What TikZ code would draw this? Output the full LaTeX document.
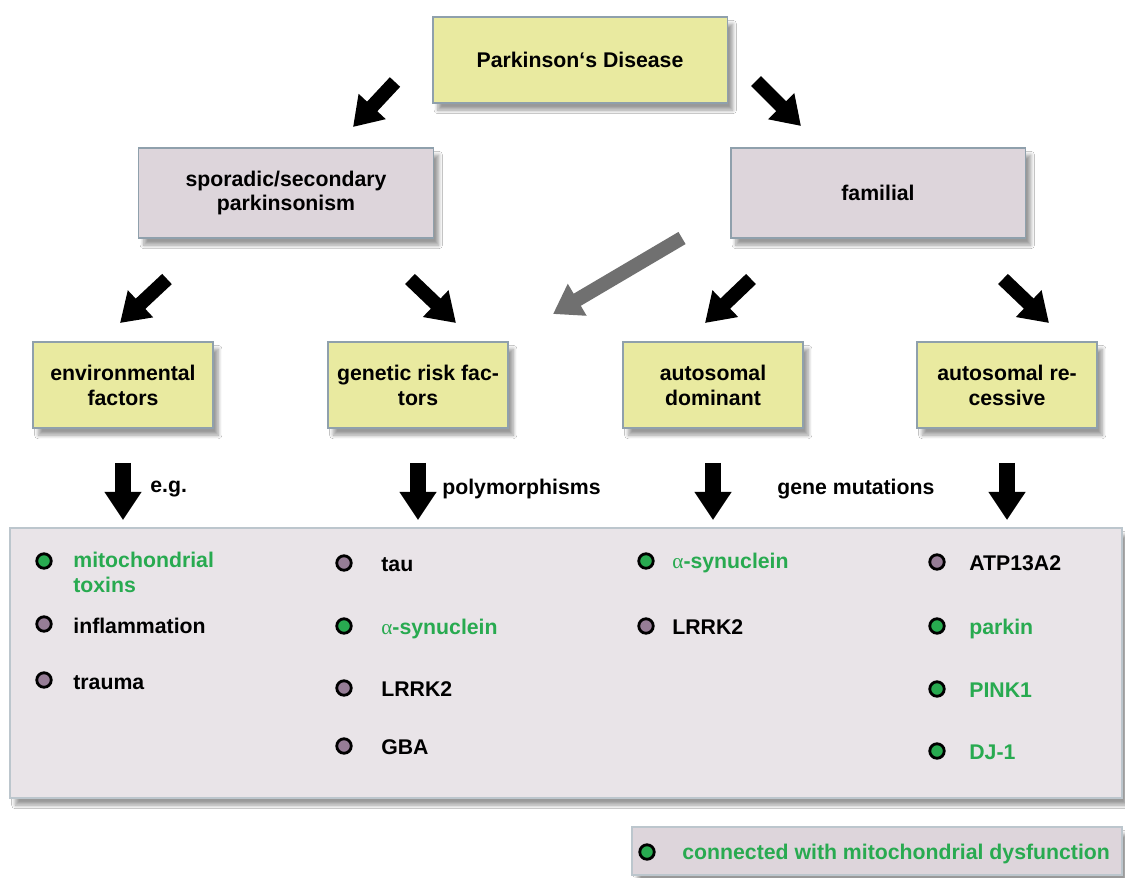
\documentclass[tikz,border=0pt]{standalone}
\usepackage{fontspec}
\setmainfont{Liberation Sans}
\newfontfamily\greekfont{Liberation Serif}
\usetikzlibrary{arrows.meta,calc,shadows,shadows.blur}
\definecolor{YellowClr}{RGB}{233,234,160}
\definecolor{LilacClr}{RGB}{221,213,219}
\definecolor{PanelClr}{RGB}{233,228,232}
\definecolor{FrameClr}{RGB}{143,160,172}
\definecolor{GreenClr}{RGB}{40,170,80}
\definecolor{MauveClr}{RGB}{150,125,150}
\definecolor{GreyArrowClr}{RGB}{112,112,112}
\newcommand{\asyn}{{\greekfont\mdseries α}-synuclein}

\begin{document}
\begin{tikzpicture}[x=0.02cm,y=-0.02cm,
  font=\fontsize{12.1}{14.2}\selectfont\bfseries,
  box/.style={draw=FrameClr,line width=1.1pt,align=center,inner sep=2pt,
    blur shadow={shadow xshift=3pt,shadow yshift=-4pt,shadow blur steps=8,shadow opacity=40}},
  topbox/.style={box,fill=YellowClr,minimum width=5.9cm,minimum height=1.72cm},
  greybox/.style={box,fill=LilacClr,minimum width=5.9cm,minimum height=1.8cm},
  yellowbox/.style={box,fill=YellowClr,minimum width=3.6cm,minimum height=1.72cm},
  panel/.style={box,draw=FrameClr!60,fill=PanelClr},
  fatarrow/.style={line width=8pt,-{Triangle[width=20pt,length=16pt]}},
  greyarrow/.style={fatarrow,draw=GreyArrowClr},
  downarrow/.style={fatarrow,line width=9pt,shorten <=0.68cm,shorten >=0.14cm},
  note/.style={anchor=west,inner sep=0pt},
  dotG/.style={circle,draw=black,line width=1.6pt,fill=GreenClr,inner sep=0pt,minimum size=0.29cm},
  dotM/.style={dotG,fill=MauveClr},
  itm/.style={anchor=west,inner sep=0pt,text height=8.7pt,text depth=0pt},
  itmG/.style={itm,text=GreenClr}]

\fill[white] (0,0) rectangle (1125,877);
\useasboundingbox (0,0) rectangle (1125,877);

% boxes
\node[topbox] (pd) at (580,60) {Parkinson‘s Disease};
\node[greybox] (spor) at (286,193) {sporadic/secondary\\parkinsonism};
\node[greybox] (fam) at (878,193) {familial};

\node[yellowbox] (env) at (123,385) {environmental\\factors};
\node[yellowbox] (gen) at (418,385) {genetic risk fac-\\tors};
\node[yellowbox] (dom) at (713,385) {autosomal\\dominant};
\node[yellowbox] (rec) at (1007,385) {autosomal re-\\cessive};

\node[panel,minimum width=22.24cm,minimum height=5.4cm] (list) at (566,663) {};
\node[panel,fill=LilacClr,minimum width=9.8cm,minimum height=0.96cm] (key) at (877,851) {};

% block arrows
\coordinate (a1) at (395,82);  \coordinate (a2) at (353,127);
\coordinate (b1) at (756,81);  \coordinate (b2) at (801,126);
\coordinate (c1) at (167,279); \coordinate (c2) at (120,323);
\coordinate (d1) at (410,279); \coordinate (d2) at (456,323);
\coordinate (e1) at (751,279); \coordinate (e2) at (705,323);
\coordinate (f1) at (1003,279); \coordinate (f2) at (1049,323);
\coordinate (g1) at (682,238); \coordinate (g2) at (553,314);

\draw[fatarrow] (a1) -- (a2);
\draw[fatarrow] (b1) -- (b2);
\draw[fatarrow] (c1) -- (c2);
\draw[fatarrow] (d1) -- (d2);
\draw[fatarrow] (e1) -- (e2);
\draw[fatarrow] (f1) -- (f2);
\draw[greyarrow] (g1) -- (g2);

\draw[downarrow] (env.south) -- (env.south |- list.north);
\draw[downarrow] (gen.south) -- (gen.south |- list.north);
\draw[downarrow] (dom.south) -- (dom.south |- list.north);
\draw[downarrow] (rec.south) -- (rec.south |- list.north);

\node[note] (eg) at (150,489) {e.g.};
\node[note] (poly) at (442,489) {polymorphisms};
\node[note] (gmut) at (777,489) {gene mutations};

% environmental
\node[dotG] (p1) at (44,561) {};
\node[anchor=north west,inner sep=0pt,align=left,text=GreenClr] (q1) at (73,552) {mitochondrial\\toxins};
\node[dotM] (p2) at (44,624) {};
\node[itm] (q2) at (73,626) {inflammation};
\node[dotM] (p3) at (44,680) {};
\node[itm] (q3) at (73,682) {trauma};

% genetic risk factors
\node[dotM] (r1) at (344,563) {};
\node[itm] (s1) at (381,564) {tau};
\node[dotG] (r2) at (344,626) {};
\node[itmG] (s2) at (381,627) {\asyn};
\node[dotM] (r3) at (344,688) {};
\node[itm] (s3) at (381,689) {LRRK2};
\node[dotM] (r4) at (344,746) {};
\node[itm] (s4) at (381,747) {GBA};

% autosomal dominant
\node[dotG] (u1) at (646,561) {};
\node[itmG] (v1) at (672,561) {\asyn};
\node[dotM] (u2) at (646,626) {};
\node[itm] (v2) at (672,627) {LRRK2};

% autosomal recessive
\node[dotM] (w1) at (937,562) {};
\node[itm] (z1) at (969,563) {ATP13A2};
\node[dotG] (w2) at (937,626) {};
\node[itmG] (z2) at (969,627) {parkin};
\node[dotG] (w3) at (937,689) {};
\node[itmG] (z3) at (969,690) {PINK1};
\node[dotG] (w4) at (937,751) {};
\node[itmG] (z4) at (969,752) {DJ-1};

% legend
\node[dotG] (k1) at (647,852) {};
\node[itmG] (k2) at (682,852) {connected with mitochondrial dysfunction};

\end{tikzpicture}
\end{document}
